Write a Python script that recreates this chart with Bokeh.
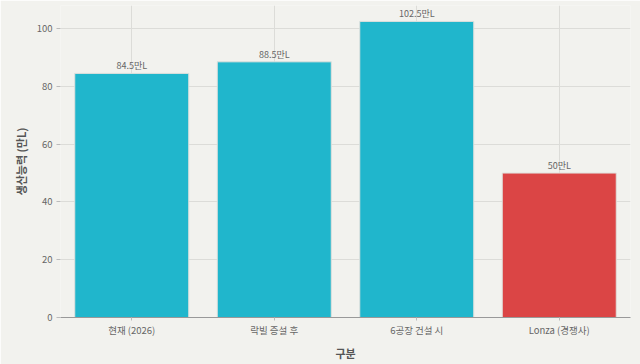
from bokeh.plotting import figure
from bokeh.models import ColumnDataSource, Range1d, FixedTicker
from bokeh.core.properties import value
from bokeh.embed import file_html
from bokeh.resources import INLINE

categories = ["현재 (2026)", "락빌 증설 후", "6공장 건설 시", "Lonza (경쟁사)"]
capacity = [84.5, 88.5, 102.5, 50.0]
bar_colors = ["#20B6CC", "#20B6CC", "#20B6CC", "#DB4545"]
labels = [f"{v:g}만L" for v in capacity]

FONT = "Noto Sans CJK KR"
BG = "#F2F2EE"

src = ColumnDataSource(dict(x=categories, y=capacity, c=bar_colors, t=labels))

p = figure(width=640, height=364, x_range=categories, y_range=Range1d(0, 108),
           output_backend="svg", toolbar_location=None,
           background_fill_color=BG, border_fill_color=BG,
           min_border_left=60, min_border_right=10, min_border_top=5, min_border_bottom=47)
p.outline_line_color = None

p.vbar(x="x", top="y", width=0.8, fill_color="c", line_color="#E0E0DC", line_width=1, source=src)
p.text(x="x", y="y", text="t", source=src, text_align="center", text_baseline="bottom",
       y_offset=-1, text_font=value(FONT), text_font_size="9px", text_color="#666666")

p.yaxis.ticker = FixedTicker(ticks=[0, 20, 40, 60, 80, 100])
p.xgrid.grid_line_color = "#DCDCD8"
p.ygrid.grid_line_color = "#DCDCD8"

p.yaxis.axis_line_color = None
p.yaxis.major_tick_line_color = "#BBBBBB"
p.yaxis.major_tick_out = 4
p.yaxis.major_tick_in = 0
p.yaxis.minor_tick_line_color = None
p.xaxis.axis_line_color = "#999999"
p.xaxis.major_tick_line_color = "#BBBBBB"
p.xaxis.major_tick_out = 3
p.xaxis.major_tick_in = 0

for ax in (p.xaxis, p.yaxis):
    ax.major_label_text_font = FONT
    ax.major_label_text_font_size = "9.5px"
    ax.major_label_text_color = "#666666"
    ax.axis_label_text_font = FONT
    ax.axis_label_text_font_size = "11px"
    ax.axis_label_text_font_style = "bold"
    ax.axis_label_text_color = "#555555"

p.xaxis.axis_label = "구분"
p.yaxis.axis_label = "생산능력 (만L)"
p.xaxis.major_label_standoff = 2
p.xaxis.axis_label_standoff = 5
p.yaxis.major_label_standoff = 4

open("out.html", "w").write(file_html(p, INLINE))
